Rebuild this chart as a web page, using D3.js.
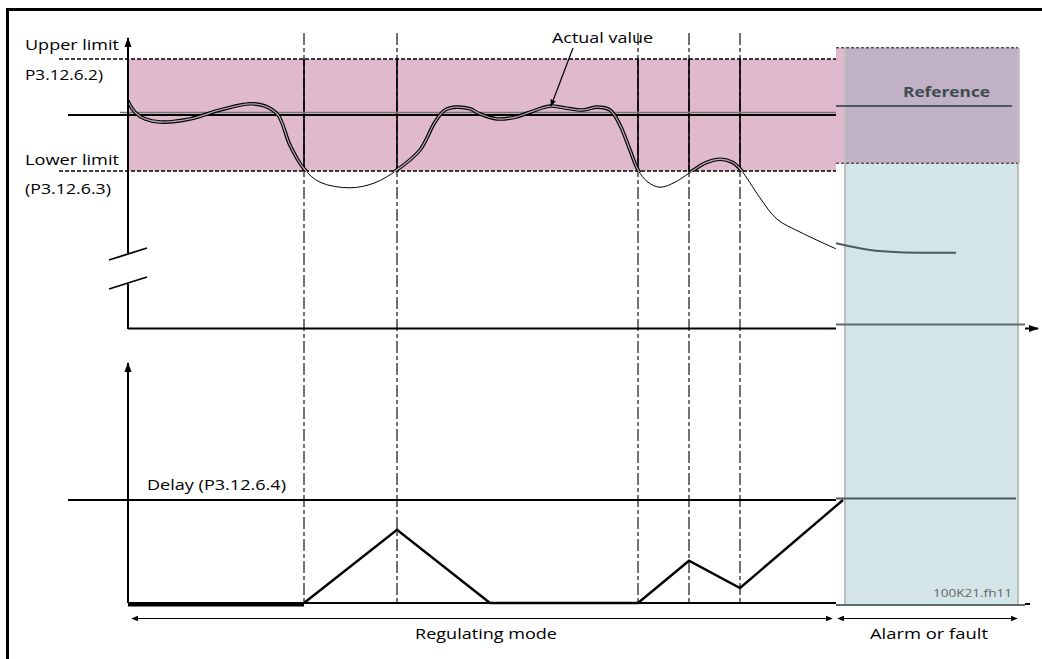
<!DOCTYPE html>
<html>
<head>
<meta charset="utf-8">
<script src="https://cdn.jsdelivr.net/npm/d3@7"></script>
<style>
  html, body { margin: 0; padding: 0; background: #fff; }
  svg { display: block; }
  text { font-family: "Open Sans", Roboto, sans-serif; }
</style>
</head>
<body>
<svg id="chart" width="1042" height="659"></svg>
<script>
// ---------- data (time units along x, value units along y) ----------
const eventTimes = [176, 269, 510, 561, 612];      // vertical dashed markers
const alarmTime = 708;                              // start of alarm/fault zone
const boxStart = 717, boxEnd = 890;                 // alarm box extents
const limitValues = [1, -1];                        // upper, lower limit
const referenceValue = 0;
const boxReferenceValue = 0.16;
const boxTopValue = 1.2, boxBandBottomValue = -0.86;

const actualT = [0, 1, 7, 17, 32, 62, 92, 122, 137, 150, 162, 176, 192, 222, 247, 269, 292, 307, 317, 329, 342, 352, 369, 387, 402, 422, 437, 455, 469, 482, 492, 502, 510, 520, 532, 547, 561, 577, 592, 604, 612, 622, 632, 649, 672, 708];
const actualV = [0.26, 0.21, 0.05, -0.07, -0.125, -0.07, 0.09, 0.2, 0.16, 0, -0.54, -0.96, -1.2, -1.3, -1.21, -0.98, -0.625, -0.125, 0.09, 0.14, 0.11, 0.02, -0.07, -0.04, 0.05, 0.16, 0.125, 0.09, 0.14, 0.09, -0.18, -0.625, -0.98, -1.2, -1.29, -1.2, -1.04, -0.86, -0.79, -0.84, -0.96, -1.21, -1.48, -1.86, -2.09, -2.39];

const boxCurveT = [708, 742, 772, 828];
const boxCurveV = [-2.29, -2.41, -2.45, -2.46];

const counterT = [176, 269, 362, 510, 561, 612, 715];
const counterV = [0, 0.71, 0, 0, 0.41, 0.146, 1.0];
const delayValue = 1;

const labels = {
  upper1: "Upper limit", upper2: "P3.12.6.2)",
  lower1: "Lower limit", lower2: "(P3.12.6.3)",
  actual: "Actual value", reference: "Reference",
  delay: "Delay (P3.12.6.4)", regulating: "Regulating mode",
  alarm: "Alarm or fault", code: "100K21.fh11"
};

// ---------- scales ----------
const x = d3.scaleLinear().domain([0, 910]).range([128, 1038]);
const yU = d3.scaleLinear().domain([-1, 1]).range([171, 59]);
const yL = d3.scaleLinear().domain([0, 1]).range([603, 500]);

const FS = 15;
const svg = d3.select("#chart");
const defs = svg.append("defs");
defs.append("marker").attr("id", "arr").attr("viewBox", "0 0 10 10")
    .attr("refX", 9).attr("refY", 5).attr("markerWidth", 10).attr("markerHeight", 10)
    .attr("markerUnits", "userSpaceOnUse").attr("orient", "auto-start-reverse")
    .append("path").attr("d", "M0,1.5L10,5L0,8.5Z").attr("fill", "#000");
defs.append("marker").attr("id", "arrS").attr("viewBox", "0 0 10 10")
    .attr("refX", 9).attr("refY", 5).attr("markerWidth", 7).attr("markerHeight", 7)
    .attr("markerUnits", "userSpaceOnUse").attr("orient", "auto-start-reverse")
    .append("path").attr("d", "M0,1L10,5L0,9Z").attr("fill", "#000");

// frame
svg.append("line").attr("x1", 6).attr("x2", 1042).attr("y1", 9.5).attr("y2", 9.5).attr("stroke", "#000").attr("stroke-width", 3);
svg.append("line").attr("x1", 7.5).attr("x2", 7.5).attr("y1", 8).attr("y2", 659).attr("stroke", "#000").attr("stroke-width", 3);

// pink tolerance band
svg.append("rect").attr("x", x(0)).attr("y", yU(limitValues[0]))
  .attr("width", x(alarmTime) - x(0)).attr("height", yU(limitValues[1]) - yU(limitValues[0]))
  .attr("fill", "#e0b9cd");

// alarm box
const bx0 = x(boxStart), bx1 = x(boxEnd);
svg.append("rect").attr("x", bx0).attr("y", yU(boxTopValue)).attr("width", bx1 - bx0)
  .attr("height", yL(0) + 2 - yU(boxTopValue)).attr("fill", "#d4e5e9");
svg.append("rect").attr("x", x(alarmTime)).attr("y", yU(boxTopValue)).attr("width", x(boxEnd + 2) - x(alarmTime))
  .attr("height", yU(boxBandBottomValue) - yU(boxTopValue)).attr("fill", "#e0b9cd");
svg.append("rect").attr("x", bx0).attr("y", yU(boxTopValue)).attr("width", bx1 - bx0)
  .attr("height", yU(boxBandBottomValue) - yU(boxTopValue)).attr("fill", "#c1b1c5");
[bx0, bx1].forEach(bx => svg.append("line").attr("x1", bx).attr("x2", bx)
  .attr("y1", yU(boxTopValue)).attr("y2", yL(0) + 2).attr("stroke", "#bdbdbd").attr("stroke-width", 2));
[boxTopValue, boxBandBottomValue].forEach(v => svg.append("line")
  .attr("x1", x(alarmTime)).attr("x2", bx1).attr("y1", yU(v)).attr("y2", yU(v))
  .attr("stroke", "#555").attr("stroke-width", 1.5).attr("stroke-dasharray", "3,2"));

// limit dashed lines
limitValues.forEach(v => svg.append("line").attr("x1", 59).attr("x2", x(alarmTime))
  .attr("y1", yU(v)).attr("y2", yU(v)).attr("stroke", "#000").attr("stroke-width", 1.4)
  .attr("stroke-dasharray", "4,2"));

// event dashed verticals
eventTimes.forEach(t => {
  svg.append("line").attr("x1", x(t)).attr("x2", x(t)).attr("y1", 33).attr("y2", yL(0))
    .attr("stroke", "#000").attr("stroke-width", 1.1).attr("stroke-dasharray", "12,3,4,3");
  svg.append("line").attr("x1", x(t)).attr("x2", x(t)).attr("y1", yU(limitValues[0])).attr("y2", yU(limitValues[1]))
    .attr("stroke", "#000").attr("stroke-width", 1.6);
});

// reference line
svg.append("line").attr("x1", 120).attr("x2", x(alarmTime)).attr("y1", yU(referenceValue) - 2.5).attr("y2", yU(referenceValue) - 2.5)
  .attr("stroke", "#777").attr("stroke-width", 1.3);
svg.append("line").attr("x1", 68).attr("x2", x(alarmTime)).attr("y1", yU(referenceValue)).attr("y2", yU(referenceValue))
  .attr("stroke", "#000").attr("stroke-width", 2.2);

// box reference line & text
svg.append("line").attr("x1", x(alarmTime)).attr("x2", x(884)).attr("y1", yU(boxReferenceValue)).attr("y2", yU(boxReferenceValue))
  .attr("stroke", "#4b5b5f").attr("stroke-width", 2);
svg.append("text").attr("x", 990).attr("y", 97).attr("text-anchor", "end")
  .attr("font-size", 15).attr("font-weight", "bold").attr("fill", "#3d4b4f")
  .attr("textLength", 87).attr("lengthAdjust", "spacingAndGlyphs").text(labels.reference);

// actual value curve
const line = d3.line().curve(d3.curveCatmullRom.alpha(0.5));
const pts = actualT.map((t, i) => [x(t), yU(actualV[i])]);
svg.append("path").attr("d", line(pts)).attr("fill", "none").attr("stroke", "#000").attr("stroke-width", 1);
defs.append("clipPath").attr("id", "band").append("rect")
  .attr("x", x(0)).attr("y", yU(limitValues[0])).attr("width", x(alarmTime) - x(0))
  .attr("height", yU(limitValues[1]) - yU(limitValues[0]) + 1);
const g2 = svg.append("g").attr("clip-path", "url(#band)");
g2.append("path").attr("d", line(pts)).attr("fill", "none").attr("stroke", "#000").attr("stroke-width", 3.6);
g2.append("path").attr("d", line(pts)).attr("fill", "none").attr("stroke", "#b5a6ae").attr("stroke-width", 1.3);

// box curve
svg.append("path").attr("d", line(boxCurveT.map((t, i) => [x(t), yU(boxCurveV[i])])))
  .attr("fill", "none").attr("stroke", "#4b5b5f").attr("stroke-width", 2);

// text helper with measured widths from the reference
function label(t, lx, ly, w, anchor) {
  const el = svg.append("text").attr("x", lx).attr("y", ly).attr("font-size", FS).attr("fill", "#000")
    .attr("text-anchor", anchor || "start").text(t);
  if (w) el.attr("textLength", w).attr("lengthAdjust", "spacingAndGlyphs");
  return el;
}

// actual value annotation
label(labels.actual, 552, 43, 101);
svg.append("line").attr("x1", 573).attr("y1", 48).attr("x2", 551).attr("y2", 106)
  .attr("stroke", "#000").attr("stroke-width", 1.2).attr("marker-end", "url(#arrS)");

// upper axes
svg.append("line").attr("x1", x(0)).attr("x2", x(0)).attr("y1", 253).attr("y2", 38)
  .attr("stroke", "#000").attr("stroke-width", 2).attr("marker-end", "url(#arr)");
svg.append("line").attr("x1", x(0)).attr("x2", x(0)).attr("y1", 284).attr("y2", 329)
  .attr("stroke", "#000").attr("stroke-width", 2);
[[260, 248], [289, 277]].forEach(([a, b]) => svg.append("line").attr("x1", 109).attr("y1", a).attr("x2", 147).attr("y2", b)
  .attr("stroke", "#000").attr("stroke-width", 1.8));
svg.append("line").attr("x1", x(0)).attr("x2", x(alarmTime)).attr("y1", 328.5).attr("y2", 328.5)
  .attr("stroke", "#000").attr("stroke-width", 2.2);
svg.append("line").attr("x1", x(alarmTime)).attr("x2", 1025).attr("y1", 324.5).attr("y2", 324.5)
  .attr("stroke", "#5a6a6e").attr("stroke-width", 2);
svg.append("line").attr("x1", 1025).attr("x2", 1038).attr("y1", 328.5).attr("y2", 328.5)
  .attr("stroke", "#000").attr("stroke-width", 2).attr("marker-end", "url(#arr)");

// upper labels
label(labels.upper1, 25, 50, 94);
label(labels.upper2, 25, 80, 78);
label(labels.lower1, 25, 165, 94);
label(labels.lower2, 25, 194, 86);

// lower axes
svg.append("line").attr("x1", x(0)).attr("x2", x(0)).attr("y1", yL(0)).attr("y2", 363)
  .attr("stroke", "#000").attr("stroke-width", 2).attr("marker-end", "url(#arr)");
svg.append("line").attr("x1", x(0)).attr("x2", x(alarmTime)).attr("y1", yL(0)).attr("y2", yL(0))
  .attr("stroke", "#000").attr("stroke-width", 2);
svg.append("line").attr("x1", x(alarmTime)).attr("x2", 1025).attr("y1", yL(0) + 2).attr("y2", yL(0) + 2)
  .attr("stroke", "#5a6a6e").attr("stroke-width", 2);
svg.append("line").attr("x1", 1025).attr("x2", 1030).attr("y1", yL(0) + 1).attr("y2", yL(0) + 1)
  .attr("stroke", "#000").attr("stroke-width", 2);

// delay line
svg.append("line").attr("x1", 68).attr("x2", x(alarmTime)).attr("y1", yL(delayValue)).attr("y2", yL(delayValue))
  .attr("stroke", "#000").attr("stroke-width", 2);
svg.append("line").attr("x1", x(alarmTime)).attr("x2", 1016).attr("y1", yL(delayValue) - 1.5).attr("y2", yL(delayValue) - 1.5)
  .attr("stroke", "#4b5b5f").attr("stroke-width", 2);
label(labels.delay, 147, 490, 139);

// counter
svg.append("line").attr("x1", x(0)).attr("x2", x(counterT[0])).attr("y1", yL(0) + 1.5).attr("y2", yL(0) + 1.5)
  .attr("stroke", "#000").attr("stroke-width", 4);
svg.append("path").attr("d", d3.line()(counterT.map((t, i) => [x(t), yL(counterV[i])])))
  .attr("fill", "none").attr("stroke", "#000").attr("stroke-width", 2.4).attr("stroke-linejoin", "miter");

svg.append("text").attr("x", 1012).attr("y", 597).attr("text-anchor", "end").attr("font-size", 11)
  .attr("fill", "#666").attr("textLength", 79).attr("lengthAdjust", "spacingAndGlyphs").text(labels.code);

// mode arrows
svg.append("line").attr("x1", 132).attr("x2", 832).attr("y1", 618.5).attr("y2", 618.5)
  .attr("stroke", "#000").attr("stroke-width", 1).attr("marker-start", "url(#arrS)").attr("marker-end", "url(#arrS)");
svg.append("line").attr("x1", 838).attr("x2", 1017).attr("y1", 618.5).attr("y2", 618.5)
  .attr("stroke", "#000").attr("stroke-width", 1).attr("marker-start", "url(#arrS)").attr("marker-end", "url(#arrS)");
label(labels.regulating, 415, 639, 142);
label(labels.alarm, 870, 639, 118);
</script>
</body>
</html>
